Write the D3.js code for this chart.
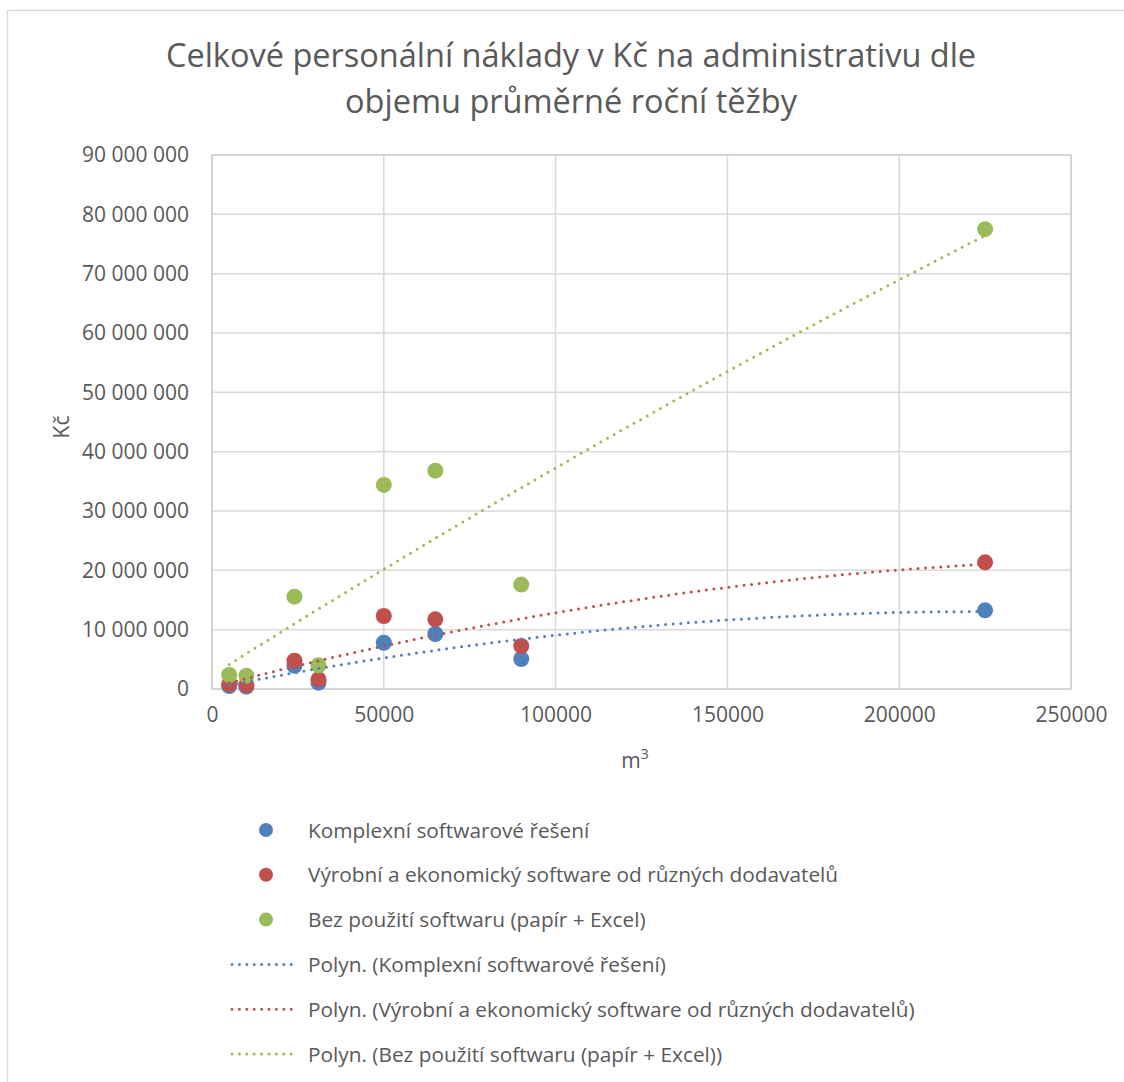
<!DOCTYPE html>
<html>
<head>
<meta charset="utf-8">
<script src="https://cdn.jsdelivr.net/npm/d3@7/dist/d3.min.js"></script>
<style>
  html, body { margin: 0; padding: 0; background: #fff; }
  svg { display: block; }
  text { font-family: "Open Sans", "Noto Sans", sans-serif; fill: #595959; }
</style>
</head>
<body>
<svg id="chart" width="1124" height="1082"></svg>
<script>
// ---- data ----
const titleLines = ["Celkové personální náklady v Kč na administrativu dle", "objemu průměrné roční těžby"];
const xValues = [5000, 10000, 24000, 31000, 50000, 65000, 90000, 225000];
const seriesNames = ["Komplexní softwarové řešení", "Výrobní a ekonomický software od různých dodavatelů", "Bez použití softwaru (papír + Excel)"];
const seriesColors = ["#4f81bd", "#c0504d", "#9bbb59"];
const blueValues  = [500000, 400000, 3900000, 1060000, 7800000, 9270000, 5060000, 13260000];
const redValues   = [800000, 670000, 4770000, 1630000, 12300000, 11750000, 7250000, 21350000];
const greenValues = [2360000, 2240000, 15560000, 4000000, 34400000, 36800000, 17600000, 77500000];
const seriesValues = [blueValues, redValues, greenValues];
const xTicks = [0, 50000, 100000, 150000, 200000, 250000];
const yTicks = [0, 10000000, 20000000, 30000000, 40000000, 50000000, 60000000, 70000000, 80000000, 90000000];
const xTitle = "m";
const xTitleSup = "3";
const yTitle = "Kč";

// ---- layout ----
const svg = d3.select("#chart");
const plot = { left: 212, right: 1071, top: 155, bottom: 689 };
const x = d3.scaleLinear().domain([0, 250000]).range([plot.left, plot.right]);
const y = d3.scaleLinear().domain([0, 90000000]).range([plot.bottom, plot.top]);

// outer chart border
svg.append("rect").attr("x", 7.5).attr("y", 10.5).attr("width", 1130).attr("height", 1090)
  .attr("fill", "none").attr("stroke", "#d9d9d9").attr("stroke-width", 1.3);

// title
const title = svg.append("text").attr("text-anchor", "middle").style("font-size", "32.5px");
titleLines.forEach((t, i) => {
  title.append("tspan").attr("x", 571).attr("y", 67 + i * 46).text(t);
});

// gridlines
const gridColor = "#d9d9d9";
svg.append("g").selectAll("line.h").data(yTicks).join("line")
  .attr("x1", plot.left).attr("x2", plot.right)
  .attr("y1", d => y(d)).attr("y2", d => y(d))
  .attr("stroke", gridColor).attr("stroke-width", 1.5);
svg.append("g").selectAll("line.v").data(xTicks).join("line")
  .attr("y1", plot.top).attr("y2", plot.bottom)
  .attr("x1", d => x(d)).attr("x2", d => x(d))
  .attr("stroke", gridColor).attr("stroke-width", 1.5);

// axes (labels only, via d3 axis)
const fmtY = v => d3.format(",")(v).replace(/,/g, " ");
const yAxis = svg.append("g").attr("transform", `translate(${plot.left},0)`)
  .call(d3.axisLeft(y).tickValues(yTicks).tickFormat(fmtY).tickSize(0).tickPadding(23));
const xAxis = svg.append("g").attr("transform", `translate(0,${plot.bottom})`)
  .call(d3.axisBottom(x).tickValues(xTicks).tickFormat(d3.format("d")).tickSize(0).tickPadding(18));
[yAxis, xAxis].forEach(a => {
  a.select(".domain").remove();
  a.selectAll("text").style("font-size", "21px").attr("fill", "#595959")
    .style("font-family", "'Open Sans', sans-serif");
});
// plot area border
svg.append("rect").attr("x", plot.left).attr("y", plot.top)
  .attr("width", plot.right - plot.left).attr("height", plot.bottom - plot.top)
  .attr("fill", "none").attr("stroke", "#d0d0d0").attr("stroke-width", 1.5);

// axis titles
const xt = svg.append("text").attr("x", 635).attr("y", 768).attr("text-anchor", "middle").style("font-size", "21px");
xt.append("tspan").text(xTitle);
xt.append("tspan").attr("dy", -9).style("font-size", "14px").text(xTitleSup);
svg.append("text").attr("transform", "translate(69,427) rotate(-90)")
  .attr("text-anchor", "middle").style("font-size", "21px").text(yTitle);

// polynomial (order 2) least-squares trendlines computed from the data
function polyFit2(xs, ys) {
  const s = k => d3.sum(xs, v => Math.pow(v / 1e5, k));
  const t = k => d3.sum(xs.map((v, i) => Math.pow(v / 1e5, k) * ys[i]));
  const A = [[s(0), s(1), s(2)], [s(1), s(2), s(3)], [s(2), s(3), s(4)]];
  const b = [t(0), t(1), t(2)];
  const n = 3;
  for (let i = 0; i < n; i++) {
    for (let j = i + 1; j < n; j++) {
      const f = A[j][i] / A[i][i];
      for (let k = i; k < n; k++) A[j][k] -= f * A[i][k];
      b[j] -= f * b[i];
    }
  }
  const c = [0, 0, 0];
  for (let i = n - 1; i >= 0; i--) {
    let sum = b[i];
    for (let k = i + 1; k < n; k++) sum -= A[i][k] * c[k];
    c[i] = sum / A[i][i];
  }
  return v => c[0] + c[1] * (v / 1e5) + c[2] * (v / 1e5) * (v / 1e5);
}

// markers
seriesValues.forEach((vals, si) => {
  svg.append("g").selectAll("circle").data(xValues.map((xv, i) => [xv, vals[i]])).join("circle")
    .attr("cx", d => x(d[0])).attr("cy", d => y(d[1])).attr("r", 8)
    .attr("fill", seriesColors[si]);
});

// trendlines
const xMin = d3.min(xValues), xMax = d3.max(xValues);
const samples = d3.range(0, 101).map(i => xMin + (xMax - xMin) * i / 100);
seriesValues.forEach((vals, si) => {
  const f = polyFit2(xValues, vals);
  const line = d3.line().x(d => x(d)).y(d => y(f(d)));
  svg.append("path").attr("d", line(samples)).attr("fill", "none")
    .attr("stroke", seriesColors[si]).attr("stroke-width", 3)
    .attr("stroke-linecap", "round").attr("stroke-dasharray", "0 7.6");
});

// legend
const legendRows = [];
seriesNames.forEach((n, i) => legendRows.push({ type: "marker", name: n, color: seriesColors[i] }));
seriesNames.forEach((n, i) => legendRows.push({ type: "line", name: "Polyn. (" + n + ")", color: seriesColors[i] }));
const legendY = d3.scaleLinear().domain([0, 5]).range([830, 1054]);
const lg = svg.append("g");
legendRows.forEach((r, i) => {
  const cy = legendY(i);
  if (r.type === "marker") {
    lg.append("circle").attr("cx", 266).attr("cy", cy).attr("r", 7).attr("fill", r.color);
  } else {
    lg.append("line").attr("x1", 232).attr("x2", 298).attr("y1", cy).attr("y2", cy)
      .attr("stroke", r.color).attr("stroke-width", 3).attr("stroke-linecap", "round")
      .attr("stroke-dasharray", "0 7.4");
  }
  lg.append("text").attr("x", 308).attr("y", cy + 7.5).style("font-size", "20.8px").text(r.name);
});
</script>
</body>
</html>
